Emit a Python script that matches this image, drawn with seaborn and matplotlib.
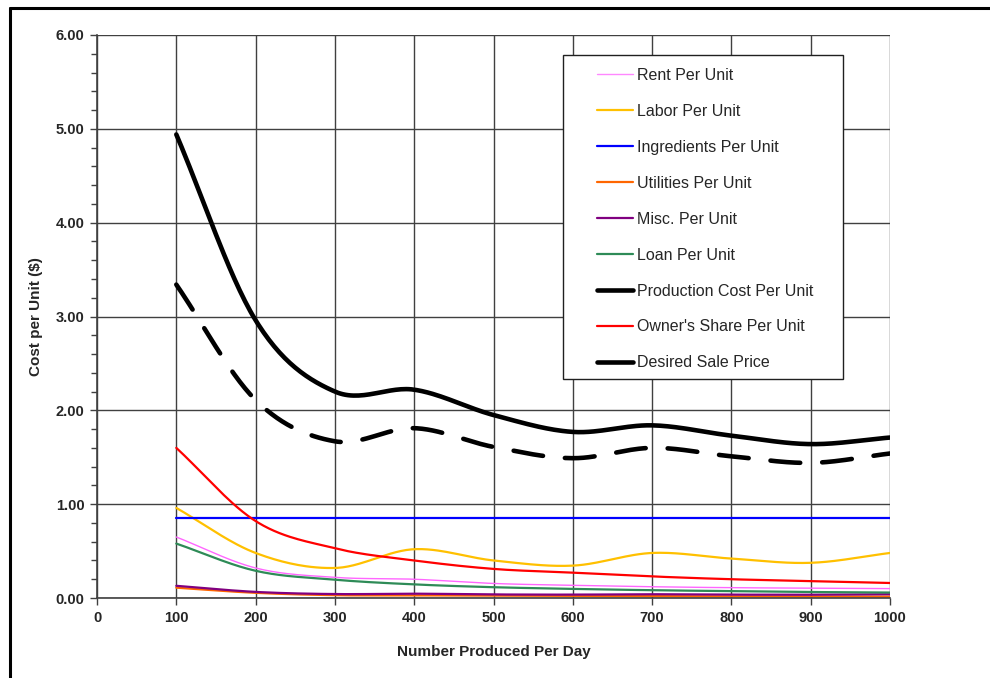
import numpy as np
import pandas as pd
import matplotlib
matplotlib.use("Agg")
import matplotlib.pyplot as plt
from matplotlib.lines import Line2D
from matplotlib.patches import Rectangle
from matplotlib.ticker import MultipleLocator
import seaborn as sns

units = [100, 200, 300, 400, 500, 600, 700, 800, 900, 1000]
rent = [0.65, 0.32, 0.22, 0.20, 0.155, 0.135, 0.12, 0.11, 0.105, 0.10]
labor = [0.96, 0.48, 0.32, 0.52, 0.40, 0.345, 0.48, 0.42, 0.375, 0.48]
ingredients = [0.85, 0.85, 0.85, 0.85, 0.85, 0.85, 0.85, 0.85, 0.85, 0.85]
utilities = [0.11, 0.055, 0.03, 0.028, 0.025, 0.022, 0.02, 0.018, 0.016, 0.015]
misc = [0.13, 0.065, 0.042, 0.046, 0.038, 0.036, 0.04, 0.036, 0.035, 0.04]
loan = [0.58, 0.29, 0.195, 0.145, 0.115, 0.097, 0.083, 0.073, 0.064, 0.058]
production = [3.34, 2.11, 1.67, 1.81, 1.61, 1.49, 1.60, 1.51, 1.44, 1.54]
owners = [1.60, 0.82, 0.53, 0.40, 0.31, 0.27, 0.23, 0.20, 0.18, 0.16]
desired = [4.94, 2.96, 2.20, 2.22, 1.95, 1.77, 1.84, 1.73, 1.64, 1.71]

series_names = ["Rent Per Unit", "Labor Per Unit", "Ingredients Per Unit",
                "Utilities Per Unit", "Misc. Per Unit", "Loan Per Unit",
                "Production Cost Per Unit", "Owner's Share Per Unit",
                "Desired Sale Price"]
series_values = [rent, labor, ingredients, utilities, misc, loan,
                 production, owners, desired]
colors = ["#FF66FF", "#FFC000", "#0000FF", "#FF6600", "#800080", "#2E8B57",
          "#000000", "#FF0000", "#000000"]
widths = [1.0, 1.6, 1.6, 1.6, 1.6, 1.6, 3.3, 1.6, 3.3]
x_ticks = list(range(0, 1001, 100))
y_ticks = [0, 1, 2, 3, 4, 5, 6]


def smooth(xs, ys, n=30):
    # Catmull-Rom smoothing similar to Excel "smoothed line" rendering
    xs = np.asarray(xs, float)
    ys = np.asarray(ys, float)
    px = np.concatenate([[2 * xs[0] - xs[1]], xs, [2 * xs[-1] - xs[-2]]])
    py = np.concatenate([[2 * ys[0] - ys[1]], ys, [2 * ys[-1] - ys[-2]]])
    ox, oy = [], []
    for i in range(1, len(px) - 2):
        t = np.linspace(0, 1, n, endpoint=False)
        for arr, out in ((px, ox), (py, oy)):
            p0, p1, p2, p3 = arr[i - 1], arr[i], arr[i + 1], arr[i + 2]
            out.extend(0.5 * ((2 * p1) + (-p0 + p2) * t
                              + (2 * p0 - 5 * p1 + 4 * p2 - p3) * t ** 2
                              + (-p0 + 3 * p1 - 3 * p2 + p3) * t ** 3))
    ox.append(xs[-1])
    oy.append(ys[-1])
    return np.array(ox), np.array(oy)


sns.set_theme(style="white")
plt.rcParams["font.family"] = ["Liberation Sans", "DejaVu Sans"]

W, H = 990, 678
AX_L, AX_R, AX_T, AX_B = 97, 890, 35, 598
fig = plt.figure(figsize=(W / 100, H / 100), dpi=100)
ax = fig.add_axes([AX_L / W, 1 - AX_B / H, (AX_R - AX_L) / W,
                   (AX_B - AX_T) / H])


def axfrac(px, py):
    return ((px - AX_L) / (AX_R - AX_L), (AX_B - py) / (AX_B - AX_T))


for name, vals, col, lw in zip(series_names, series_values, colors, widths):
    sx, sy = smooth(units, vals)
    df = pd.DataFrame({"x": sx, "y": sy})
    line_ax = sns.lineplot(data=df, x="x", y="y", ax=ax, color=col, lw=lw,
                           sort=False, estimator=None)
    ln = line_ax.get_lines()[-1]
    if name == "Production Cost Per Unit":
        ln.set_dashes((6.5, 4.8))
        ln.set_dash_capstyle("round")
    else:
        ln.set_solid_capstyle("round")

ax.set_xlim(0, 1000)
ax.set_ylim(0, 6)
ax.set_xticks(x_ticks)
ax.set_xticklabels([str(v) for v in x_ticks])
ax.set_yticks(y_ticks)
ax.set_yticklabels([f"{v:.2f}" for v in y_ticks])
ax.yaxis.set_minor_locator(MultipleLocator(0.2))
ax.grid(True, which="major", color="#404040", lw=1.0)
ax.set_axisbelow(True)
for s in ["top", "right"]:
    ax.spines[s].set_visible(False)
for s in ["left", "bottom"]:
    ax.spines[s].set_color("#404040")
    ax.spines[s].set_linewidth(1.2)
ax.tick_params(axis="both", which="major", direction="out", length=5,
               width=1, color="#404040", labelsize=10.5, pad=4,
               left=True, bottom=True)
ax.tick_params(axis="y", which="minor", direction="out", length=4,
               width=1, color="#404040", left=True)
for lab in ax.get_xticklabels() + ax.get_yticklabels():
    lab.set_fontweight("bold")

ax.set_xlabel("Number Produced Per Day", fontsize=11, fontweight="bold",
              labelpad=15)
ax.set_ylabel("Cost per Unit ($)", fontsize=11, fontweight="bold",
              labelpad=9)

# legend frame
bx0, by0 = axfrac(563, 379)
bx1, by1 = axfrac(843, 55)
ax.add_patch(Rectangle((bx0, by0), bx1 - bx0, by1 - by0,
                       transform=ax.transAxes, facecolor="white",
                       edgecolor="#202020", lw=1.0, zorder=4.5,
                       clip_on=False))

handles = []
for name, col, lw in zip(series_names, colors, widths):
    if name == "Rent Per Unit":
        col = "#FF88FF"
    handles.append(Line2D([0], [0], color=col, lw=lw, solid_capstyle="round"))
leg = ax.legend(handles, series_names, loc="upper left",
                bbox_to_anchor=axfrac(597, 68),
                fontsize=11.5, frameon=False,
                labelspacing=1.31, handlelength=2.25, handletextpad=0.25,
                borderpad=0, borderaxespad=0)
leg.set_zorder(5)

# outer chart-area border (cropped on right/bottom)
fig.add_artist(Line2D([10 / W, 10 / W], [1 - 8 / H, 0], color="black",
                      lw=2.2, transform=fig.transFigure))
fig.add_artist(Line2D([10 / W, 1.0], [1 - 8 / H, 1 - 8 / H],
                      color="black", lw=2.2, transform=fig.transFigure))

fig.savefig("out.png", dpi=100)
